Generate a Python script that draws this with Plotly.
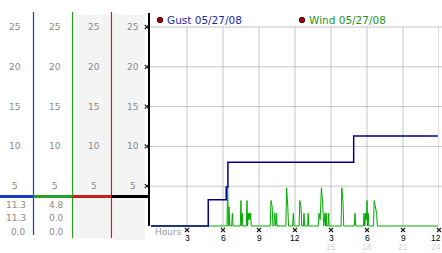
import plotly.graph_objects as go

W, H = 442, 253

# ---------------- data ----------------
gust_hours = [0.0, 4.77, 6.27, 6.41, 16.89, 23.9]
gust_values = [0.0, 3.3, 4.9, 8.0, 11.3, 11.3]

wind_hours = [0.0, 6.33, 6.39, 6.45, 6.5, 6.56, 6.72, 6.78, 6.84,
              7.44, 7.5, 7.55, 7.6, 7.66, 7.94, 8.0, 8.05, 8.1, 8.15,
              8.2, 8.25, 8.3, 8.36, 9.94, 10.0, 10.1, 10.16, 10.24, 10.3,
              10.36, 10.4, 10.45, 10.5, 11.24, 11.3, 11.4, 11.46, 11.8,
              11.86, 11.92, 12.34, 12.4, 12.5, 12.56, 12.7, 12.75, 12.8,
              13.05, 13.1, 13.15, 13.94, 14.0, 14.1, 14.2, 14.3, 14.4,
              14.5, 14.55, 14.6, 14.65, 14.75, 14.8, 14.85, 15.84, 15.9,
              16.0, 16.06, 16.94, 17.0, 17.06, 17.7, 17.75, 17.82, 17.9,
              17.95, 18.0, 18.05, 18.1, 18.16, 18.54, 18.6, 18.7, 18.8,
              18.86, 23.9]
wind_values = [0.0, 0.0, 4.9, 0.0, 2.4, 0.0, 0.0, 1.6, 0.0,
               0.0, 3.2, 0.0, 1.6, 0.0, 0.0, 3.2, 0.0, 1.6, 0.8,
               1.6, 0.8, 1.6, 0.0, 0.0, 3.2, 2.4, 0.0, 0.0, 1.6,
               0.0, 0.0, 1.6, 0.0, 0.0, 4.8, 2.4, 0.0, 0.0,
               1.6, 0.0, 0.0, 3.2, 2.4, 0.0, 0.0, 1.6, 0.0,
               0.0, 1.6, 0.0, 0.0, 1.6, 0.8, 4.8, 3.0, 0.0,
               1.6, 0.0, 1.6, 0.0, 0.0, 1.6, 0.0, 0.0, 4.8,
               3.0, 0.0, 0.0, 1.6, 0.0, 0.0, 1.6, 0.0, 1.6,
               0.8, 3.2, 0.0, 1.6, 0.0, 0.0, 3.2, 2.4, 1.6,
               0.0, 0.0]

y_ticks = [5, 10, 15, 20, 25]
x_ticks = [3, 6, 9, 12, 15, 18, 21, 24]
x_tick_text = ["3", "6", "9", "12", "3", "6", "9", "12"]
x_tick_text_24h = ["", "", "", "", "15", "18", "21", "24"]

gust_stats = ["11.3", "11.3", "0.0"]
wind_stats = ["4.8", "0.0", "0.0"]
legend_labels = ["Gust 05/27/08", "Wind 05/27/08"]

# ---------------- helpers ----------------
def X(px):
    return px / W

def Y(py):
    return 1 - py / H

PX_PER_UNIT = 7.96
PX_PER_HOUR = 12.0
Y0_PX, X0_PX = 226, 151
Y_TOP = (Y0_PX - 13) / PX_PER_UNIT
Y_BOT = (Y0_PX - 238) / PX_PER_UNIT
X_LEFT = (145 - X0_PX) / PX_PER_HOUR

C_BLUE = "rgb(20,60,200)"
C_GREEN = "rgb(40,160,40)"
C_RED = "rgb(200,30,30)"
C_GRID = "#c4c4c4"
C_LABEL = "#8a8a8a"

fig = go.Figure()

fig.add_trace(go.Scatter(x=wind_hours, y=wind_values, mode="lines",
                         line=dict(color="rgb(0,170,0)", width=1),
                         hoverinfo="skip", showlegend=False))
fig.add_trace(go.Scatter(x=gust_hours, y=gust_values, mode="lines",
                         line=dict(color="rgb(0,0,140)", width=1.5, shape="hv"),
                         hoverinfo="skip", showlegend=False))

# tick marks (small crosses)
tick_marker = dict(symbol="x-thin-open", size=4, color="#222",
                   line=dict(color="#222", width=1.2))
fig.add_trace(go.Scatter(x=[-0.35] * len(y_ticks), y=y_ticks, mode="markers",
                         marker=tick_marker,
                         cliponaxis=False, hoverinfo="skip", showlegend=False))
fig.add_trace(go.Scatter(x=x_ticks, y=[-0.5] * len(x_ticks), mode="markers",
                         marker=tick_marker,
                         cliponaxis=False, hoverinfo="skip", showlegend=False))

shapes = []
# gray column backgrounds
shapes.append(dict(type="rect", xref="paper", yref="paper", x0=X(73), x1=X(111),
                   y0=Y(238), y1=Y(15), fillcolor="#f4f4f4", line_width=0, layer="below"))
shapes.append(dict(type="rect", xref="paper", yref="paper", x0=X(113), x1=X(145),
                   y0=Y(240), y1=Y(15), fillcolor="#f4f4f4", line_width=0, layer="below"))
# grid
for v in y_ticks:
    shapes.append(dict(type="line", xref="paper", yref="y", x0=X(149), x1=1,
                       y0=v, y1=v, line=dict(color=C_GRID, width=1), layer="below"))
for t in x_ticks:
    shapes.append(dict(type="line", xref="x", yref="y", x0=t, x1=t,
                       y0=0, y1=25, line=dict(color=C_GRID, width=1), layer="below"))
# column separators
shapes.append(dict(type="line", xref="paper", yref="paper", x0=X(33.5), x1=X(33.5),
                   y0=Y(235), y1=Y(12), line=dict(color=C_BLUE, width=1.2)))
shapes.append(dict(type="line", xref="paper", yref="paper", x0=X(72.5), x1=X(72.5),
                   y0=Y(238), y1=Y(12), line=dict(color=C_GREEN, width=1.2)))
shapes.append(dict(type="line", xref="paper", yref="paper", x0=X(111.5), x1=X(111.5),
                   y0=Y(238), y1=Y(12), line=dict(color=C_RED, width=1.2)))
# left axis
shapes.append(dict(type="line", xref="paper", yref="paper", x0=X(149), x1=X(149),
                   y0=Y(226), y1=Y(13), line=dict(color="black", width=2)))
# thick indicator line
for x0, x1, c in [(0, 33.5, C_BLUE), (33.5, 72.5, C_GREEN), (72.5, 111.5, C_RED), (111.5, 149, "black")]:
    shapes.append(dict(type="line", xref="paper", yref="paper", x0=X(x0), x1=X(x1),
                       y0=Y(196.5), y1=Y(196.5), line=dict(color=c, width=3)))
# legend dots
for cx in [160, 302]:
    shapes.append(dict(type="circle", xref="paper", yref="paper",
                       x0=X(cx - 2.7), x1=X(cx + 2.7), y0=Y(20 + 2.7), y1=Y(20 - 2.7),
                       fillcolor="rgb(170,0,0)", line=dict(color="rgb(60,0,0)", width=1)))

ann = []
col_centers = [14.5, 54.5, 93.5, 132.5]
for cx in col_centers:
    for v in y_ticks:
        ann.append(dict(x=X(cx), y=v, xref="paper", yref="y", text=str(v),
                        showarrow=False, xanchor="center", yanchor="middle",
                        font=dict(family="DejaVu Sans", size=9, color=C_LABEL)))
for i, (gs, ws) in enumerate(zip(gust_stats, wind_stats)):
    ypx = 204.5 + 13.8 * i
    ann.append(dict(x=X(27.5), y=Y(ypx), xref="paper", yref="paper", text=gs,
                    showarrow=False, xanchor="right", yanchor="middle",
                    font=dict(family="DejaVu Sans", size=9, color=C_LABEL)))
    ann.append(dict(x=X(66), y=Y(ypx), xref="paper", yref="paper", text=ws,
                    showarrow=False, xanchor="right", yanchor="middle",
                    font=dict(family="DejaVu Sans", size=9, color=C_LABEL)))
# x tick labels
for t, lab, lab2 in zip(x_ticks, x_tick_text, x_tick_text_24h):
    last = t == x_ticks[-1]
    ann.append(dict(x=t, y=Y(238.3), xref="x", yref="paper", text=lab,
                    showarrow=False, xanchor="right" if last else "center",
                    xshift=4 if last else 0, yanchor="middle", height=8,
                    font=dict(family="Liberation Sans", size=8.5, color="black")))
    if lab2:
        ann.append(dict(x=t, y=Y(247), xref="x", yref="paper", text=lab2,
                        showarrow=False, xanchor="right" if last else "center",
                        xshift=4 if last else 0, yanchor="middle", height=8,
                        font=dict(family="Liberation Sans", size=8.5, color="#d4d4d4")))
ann.append(dict(x=X(152.5), y=Y(232), xref="paper", yref="paper", text="Hours",
                showarrow=False, xanchor="left", yanchor="middle",
                font=dict(family="DejaVu Sans", size=9, color="#999999")))
# legend labels
ann.append(dict(x=X(164.5), y=Y(20), xref="paper", yref="paper", text=legend_labels[0],
                showarrow=False, xanchor="left", yanchor="middle",
                font=dict(family="DejaVu Sans", size=10.5, color="rgb(30,40,170)")))
ann.append(dict(x=X(306.5), y=Y(20), xref="paper", yref="paper", text=legend_labels[1],
                showarrow=False, xanchor="left", yanchor="middle",
                font=dict(family="DejaVu Sans", size=10.5, color="rgb(30,150,30)")))

fig.update_layout(
    width=W, height=H, margin=dict(l=0, r=0, t=0, b=0, pad=0),
    paper_bgcolor="white", plot_bgcolor="rgba(0,0,0,0)",
    xaxis=dict(domain=[X(145), X(439)], range=[X_LEFT, 24], showgrid=False, zeroline=False,
               showticklabels=False, ticks="", showline=False, fixedrange=True),
    yaxis=dict(domain=[Y(238), Y(13)], range=[Y_BOT, Y_TOP], showgrid=False, zeroline=False,
               showticklabels=False, ticks="", showline=False, fixedrange=True),
    shapes=shapes, annotations=ann, showlegend=False,
)

fig.write_html("out.html", config={"displayModeBar": False})
